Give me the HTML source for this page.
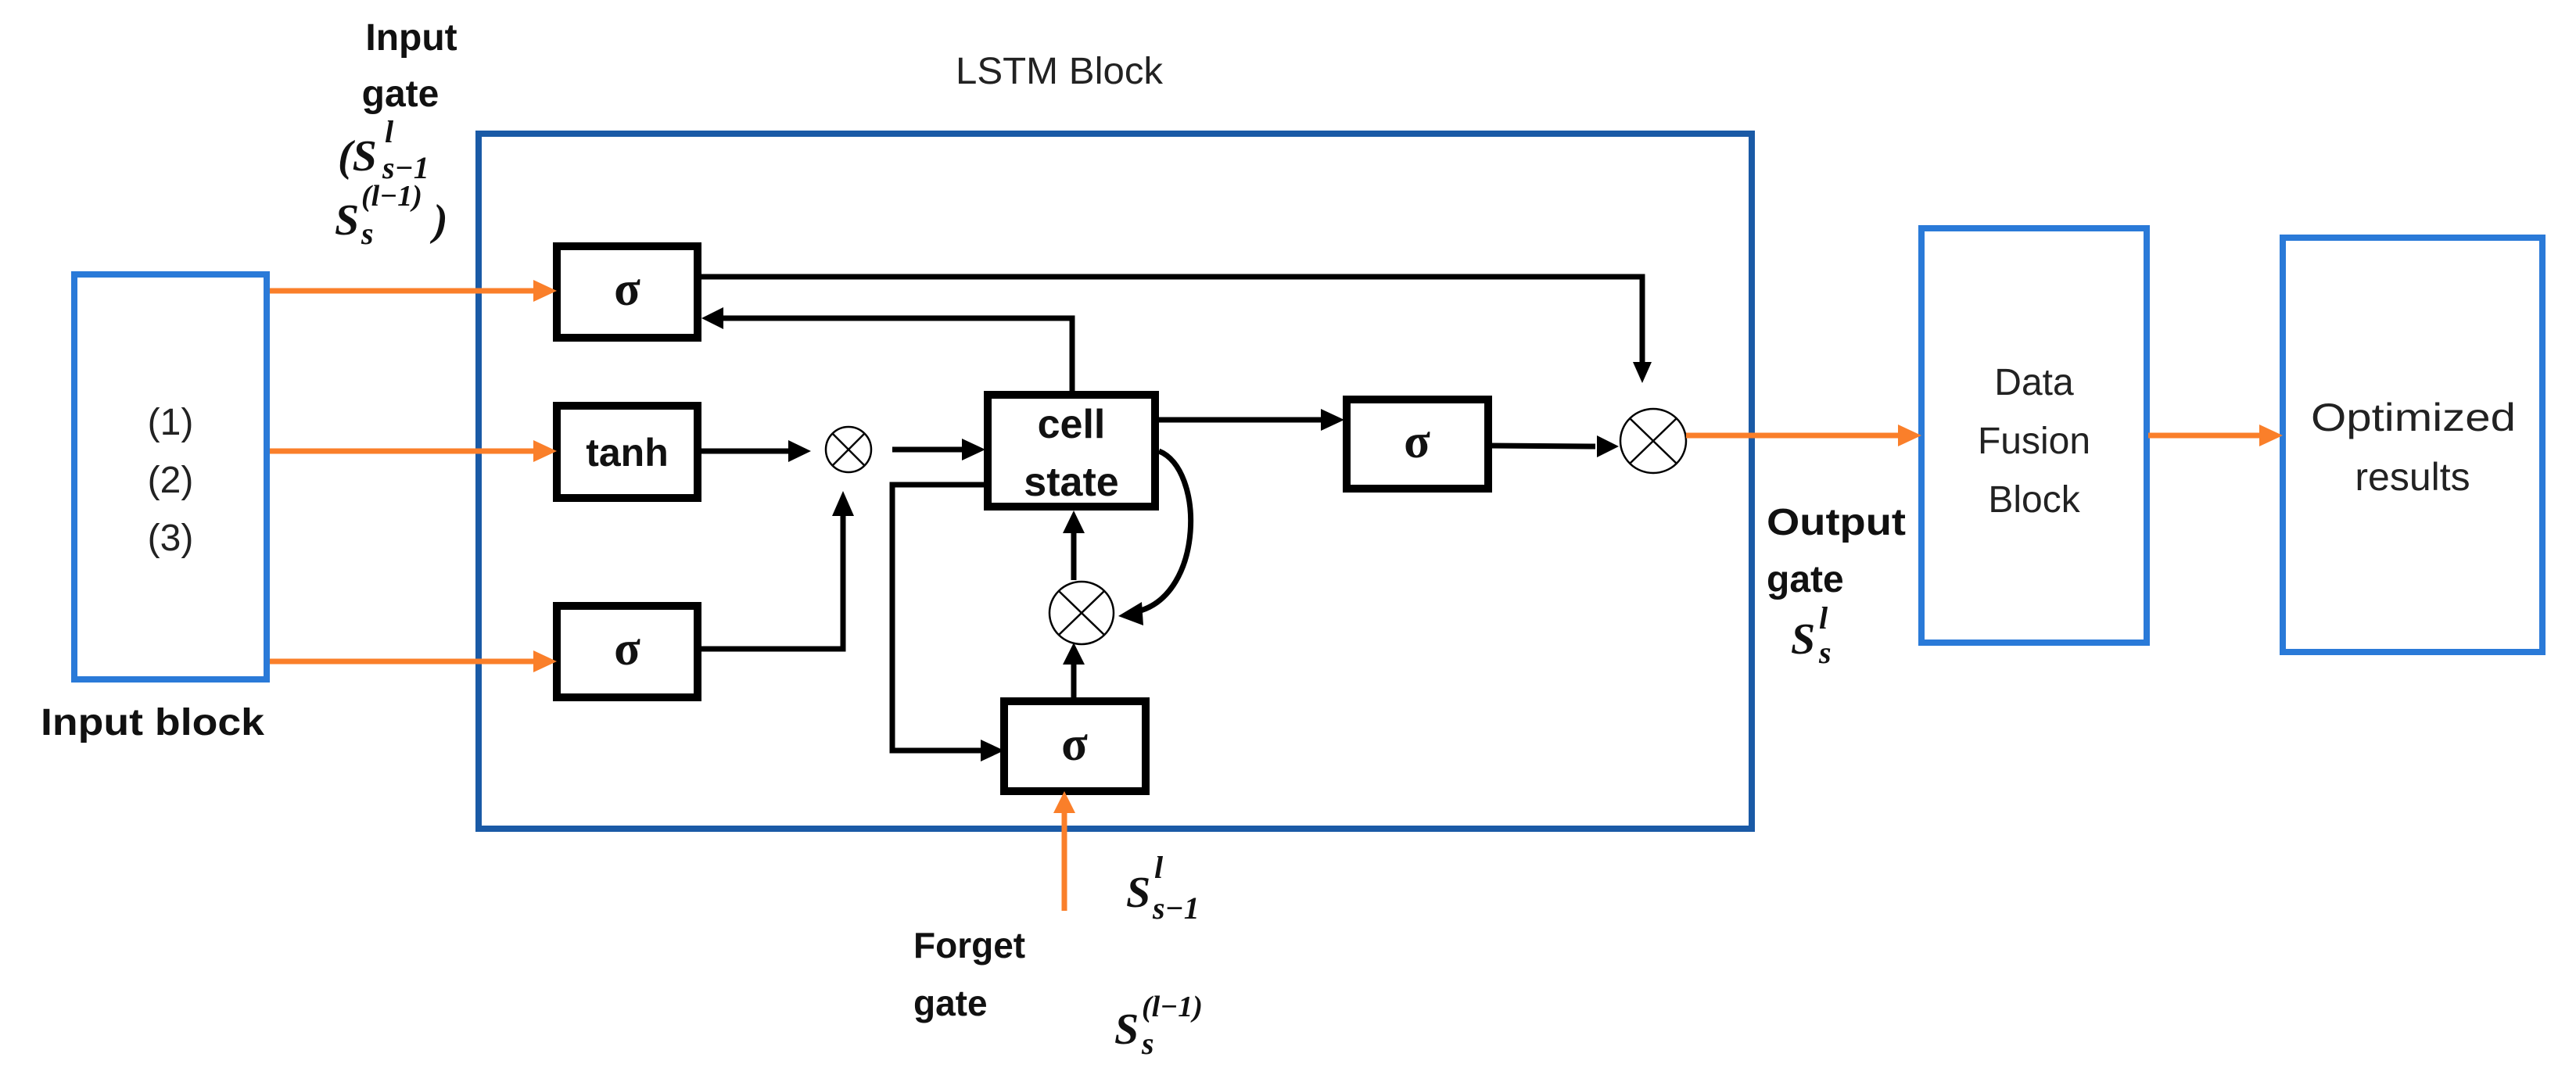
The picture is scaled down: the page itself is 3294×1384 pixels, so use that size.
<!DOCTYPE html>
<html><head><meta charset="utf-8"><style>
html,body{margin:0;padding:0;background:#fff;}
svg{display:block;}
.b{font-family:"Liberation Sans",sans-serif;font-weight:bold;fill:#111;}
.r{font-family:"Liberation Sans",sans-serif;fill:#222;}
.m{font-family:"Liberation Serif",serif;font-weight:bold;font-style:italic;fill:#111;}
.s{font-family:"Liberation Serif",serif;font-weight:bold;fill:#111;}
</style></head><body>
<svg width="3294" height="1384" viewBox="0 0 3294 1384" xmlns="http://www.w3.org/2000/svg">
<!-- blue boxes -->
<rect x="612" y="171" width="1628" height="889" fill="none" stroke="#1a5aa6" stroke-width="8"/>
<rect x="95" y="351" width="246" height="518" fill="none" stroke="#2a7ad8" stroke-width="8"/>
<rect x="2457" y="292" width="288" height="530" fill="none" stroke="#2a7ad8" stroke-width="8"/>
<rect x="2919" y="304" width="332" height="530" fill="none" stroke="#2a7ad8" stroke-width="8"/>

<!-- black boxes -->
<g fill="none" stroke="#000" stroke-width="10">
<rect x="712" y="315" width="180" height="117"/>
<rect x="712" y="519" width="180" height="118"/>
<rect x="712" y="775" width="180" height="117"/>
<rect x="1263" y="505" width="214" height="143"/>
<rect x="1284" y="897" width="181" height="115"/>
<rect x="1722" y="511" width="181" height="114"/>
</g>

<!-- circles -->
<g fill="#fff" stroke="#000" stroke-width="2.5">
<circle cx="1085" cy="575" r="29"/>
<line x1="1064" y1="554" x2="1106" y2="596"/><line x1="1106" y1="554" x2="1064" y2="596"/>
<ellipse cx="1383" cy="784" rx="41" ry="40"/>
<line x1="1354" y1="756" x2="1412" y2="812"/><line x1="1412" y1="756" x2="1354" y2="812"/>
<ellipse cx="2114" cy="564" rx="42" ry="41"/>
<line x1="2084" y1="535" x2="2144" y2="593"/><line x1="2144" y1="535" x2="2084" y2="593"/>
</g>

<!-- black connectors -->
<g fill="none" stroke="#000" stroke-width="7">
<polyline points="897,354 2100,354 2100,465"/>
<polyline points="1371,500 1371,407 925,407"/>
<line x1="897" y1="577" x2="1010" y2="577"/>
<line x1="1141" y1="575" x2="1232" y2="575"/>
<polyline points="897,830 1078,830 1078,660"/>
<polyline points="1258,620 1141,620 1141,960 1255,960"/>
<line x1="1373" y1="892" x2="1373" y2="848"/>
<line x1="1373" y1="742" x2="1373" y2="680"/>
<line x1="1482" y1="537" x2="1690" y2="537"/>
<line x1="1905" y1="570" x2="2040" y2="571"/>
<path d="M1482,577 C1540,600 1540,760 1455,782"/>
</g>
<g fill="#000">
<polygon points="2088,463 2112,463 2100,490"/>
<polygon points="897,407 925,393 925,421"/>
<polygon points="1037,577 1008,563 1008,591"/>
<polygon points="1260,575 1230,561 1230,589"/>
<polygon points="1078,628 1064,660 1092,660"/>
<polygon points="1284,960 1254,946 1254,974"/>
<polygon points="1373,822 1359,850 1387,850"/>
<polygon points="1373,653 1359,682 1387,682"/>
<polygon points="1719,537 1689,523 1689,551"/>
<polygon points="2070,571 2042,557 2042,585"/>
<polygon points="1430,788 1460,770 1462,800"/>
</g>

<!-- orange connectors -->
<g stroke="#fa7f2a" stroke-width="7" fill="none">
<line x1="345" y1="372" x2="685" y2="372"/>
<line x1="345" y1="577" x2="685" y2="577"/>
<line x1="345" y1="846" x2="685" y2="846"/>
<line x1="2156" y1="557" x2="2430" y2="557"/>
<line x1="2747" y1="557" x2="2893" y2="557"/>
<line x1="1361" y1="1165" x2="1361" y2="1035"/>
</g>
<g fill="#fa7f2a">
<polygon points="712,372 682,358 682,386"/>
<polygon points="712,577 682,563 682,591"/>
<polygon points="712,846 682,832 682,860"/>
<polygon points="2457,557 2427,543 2427,571"/>
<polygon points="2919,557 2889,543 2889,571"/>
<polygon points="1361,1012 1347,1040 1375,1040"/>
</g>

<!-- box labels -->
<text class="s" x="802" y="390" font-size="62" text-anchor="middle">σ</text>
<text class="b" x="802" y="596" font-size="50" text-anchor="middle">tanh</text>
<text class="s" x="802" y="850" font-size="62" text-anchor="middle">σ</text>
<text class="b" x="1370" y="560" font-size="52" text-anchor="middle">cell</text>
<text class="b" x="1370" y="634" font-size="52" text-anchor="middle">state</text>
<text class="s" x="1374" y="972" font-size="62" text-anchor="middle">σ</text>
<text class="s" x="1812" y="585" font-size="62" text-anchor="middle">σ</text>

<text class="r" x="1222" y="107" font-size="48" textLength="265" lengthAdjust="spacingAndGlyphs">LSTM Block</text>
<text class="r" x="218" y="556" font-size="48" text-anchor="middle">(1)</text>
<text class="r" x="218" y="630" font-size="48" text-anchor="middle">(2)</text>
<text class="r" x="218" y="704" font-size="48" text-anchor="middle">(3)</text>
<text class="b" x="52" y="940" font-size="48" textLength="286" lengthAdjust="spacingAndGlyphs">Input block</text>
<text class="r" x="2601" y="505" font-size="48" text-anchor="middle">Data</text>
<text class="r" x="2601" y="580" font-size="48" text-anchor="middle">Fusion</text>
<text class="r" x="2601" y="655" font-size="48" text-anchor="middle">Block</text>
<text class="r" x="2955" y="551" font-size="50" textLength="262" lengthAdjust="spacingAndGlyphs">Optimized</text>
<text class="r" x="3085" y="627" font-size="50" text-anchor="middle">results</text>

<text class="b" x="526" y="64" font-size="48" text-anchor="middle">Input</text>
<text class="b" x="512" y="136" font-size="48" text-anchor="middle">gate</text>
<text class="m" x="432" y="218" font-size="56">(S</text>
<text class="m" x="492" y="182" font-size="40">l</text>
<text class="m" x="489" y="228" font-size="40">s−1</text>
<text class="m" x="428" y="300" font-size="56">S</text>
<text class="m" x="462" y="263" font-size="38">(l−1)</text>
<text class="m" x="462" y="312" font-size="40">s</text>
<text class="m" x="554" y="300" font-size="56" font-style="normal" font-weight="normal">)</text>

<text class="b" x="1168" y="1225" font-size="46">Forget</text>
<text class="b" x="1168" y="1299" font-size="46">gate</text>
<text class="m" x="1440" y="1160" font-size="56">S</text>
<text class="m" x="1476" y="1123" font-size="40">l</text>
<text class="m" x="1474" y="1175" font-size="40">s−1</text>
<text class="m" x="1425" y="1335" font-size="56">S</text>
<text class="m" x="1460" y="1300" font-size="38">(l−1)</text>
<text class="m" x="1460" y="1348" font-size="40">s</text>

<text class="b" x="2259" y="684" font-size="48" textLength="178" lengthAdjust="spacingAndGlyphs">Output</text>
<text class="b" x="2259" y="757" font-size="48">gate</text>
<text class="m" x="2290" y="836" font-size="56">S</text>
<text class="m" x="2326" y="804" font-size="40">l</text>
<text class="m" x="2326" y="848" font-size="40">s</text>
</svg>
</body></html>
